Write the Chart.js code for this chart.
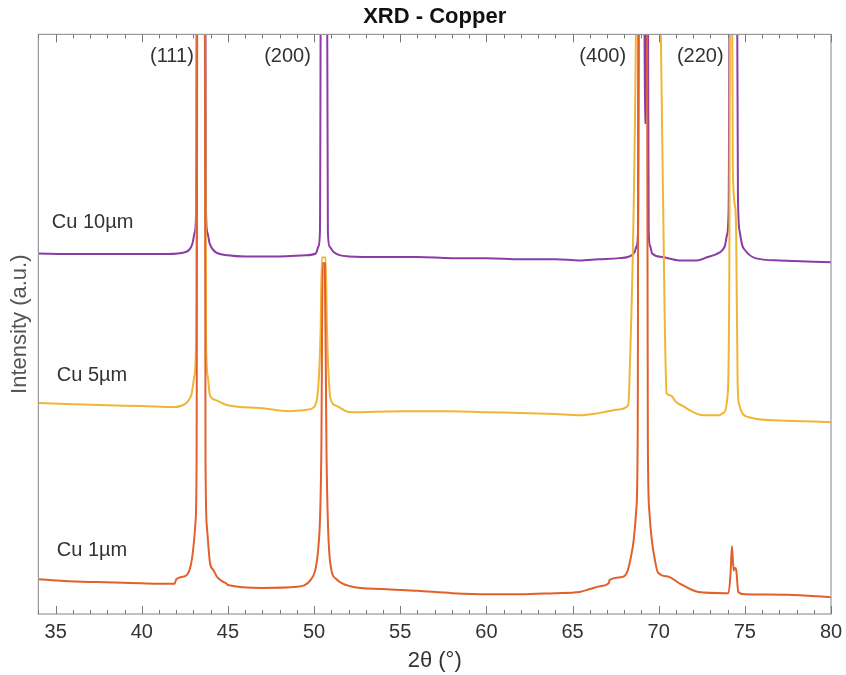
<!DOCTYPE html>
<html>
<head>
<meta charset="utf-8">
<script src="https://cdn.jsdelivr.net/npm/chart.js@4/dist/chart.umd.min.js"></script>
<style>
body { margin: 0; background: #fff; }
#wrap { width: 846px; height: 675px; }
</style>
</head>
<body>
<div id="wrap"><canvas id="grafiek"></canvas></div>
<script>
// ---- DATA ----
const cu1X = [34.0, 35.5, 37.4, 39.9, 41.9, 42.0, 42.6, 42.85, 43.0, 43.12, 43.18, 43.24, 43.64, 43.7, 43.78, 43.96, 44.15, 44.37, 44.7, 44.9, 45.0, 47.0, 49.0, 49.8, 50.1, 50.25, 50.35, 50.42, 50.5, 50.62, 50.72, 50.8, 50.95, 51.3, 52.1, 54, 56, 58, 60, 62, 64, 65.4, 66.0, 66.6, 67.1, 67.15, 67.9, 68.2, 68.4, 68.55, 68.7, 68.78, 68.85, 69.3, 69.37, 69.45, 69.6, 69.8, 69.95, 70.6, 71.2, 72.3, 73.9, 74.05, 74.17, 74.25, 74.35, 74.42, 74.5, 74.62, 75.0, 77.5, 80];
const cu1Y = [6.0, 5.7, 5.5, 5.3, 5.2, 6.0, 6.7, 8.5, 11.6, 16, 26, 140, 140, 26, 15, 8.8, 7.6, 6.4, 5.6, 5.3, 5.0, 4.5, 4.7, 5.9, 8, 11.6, 17, 28, 60.5, 60.5, 28, 16, 8.5, 6.0, 4.8, 4.3, 4.0, 3.6, 3.4, 3.4, 3.6, 3.8, 4.3, 4.8, 5.3, 5.9, 6.4, 7.5, 10, 12.8, 18, 30, 140, 140, 30, 18, 12.8, 9, 7.2, 6.4, 5.3, 3.8, 3.6, 3.6, 7, 11.7, 7.5, 8.0, 7.6, 3.8, 3.4, 3.3, 2.9];

const cu5X = [34.0, 36, 38, 40, 41.9, 42.5, 42.75, 42.9, 43.05, 43.15, 43.24, 43.64, 43.73, 43.83, 43.95, 44.3, 45, 47, 48.5, 49.5, 50.0, 50.2, 50.3, 50.38, 50.45, 50.67, 50.75, 50.83, 50.95, 51.3, 52.1, 55, 58, 60, 62, 64, 65.4, 66.6, 67.7, 68.22, 68.3, 68.68, 68.8, 69.9, 70.12, 70.35, 70.46, 70.6, 70.75, 71.0, 71.4, 71.9, 72.6, 73.5, 73.8, 74.0, 74.1, 74.16, 74.22, 74.3, 74.45, 74.5, 74.58, 74.68, 75.2, 77, 80];
const cu5Y = [36.4, 36.2, 36.0, 35.9, 35.7, 36.2, 37.0, 38.1, 41, 47.2, 140, 140, 47.2, 41, 37.8, 36.9, 36.0, 35.5, 35.0, 35.2, 35.7, 37.8, 42, 49, 61.5, 61.5, 49, 42, 37.2, 35.9, 34.8, 35.0, 35.0, 34.8, 34.7, 34.5, 34.3, 34.7, 35.3, 36.0, 40, 101, 160, 160, 101, 50.7, 38.1, 37.8, 37.6, 36.6, 35.9, 35.0, 34.3, 34.3, 34.8, 37.8, 60, 140, 140, 77, 70, 64.8, 40, 36, 34.0, 33.4, 33.1];

const cu10X = [34.0, 36, 39, 41.5, 42.5, 42.8, 42.95, 43.07, 43.15, 43.22, 43.66, 43.73, 43.81, 43.93, 44.1, 44.3, 45, 46, 48, 49.5, 50.1, 50.25, 50.34, 50.42, 50.72, 50.8, 50.9, 51.15, 52, 54, 56, 58, 60, 62, 64, 65.4, 66.5, 67.7, 68.2, 68.6, 68.72, 68.8, 68.88, 69.15, 69.19, 69.26, 69.3, 69.34, 69.42, 69.5, 69.62, 70.2, 71.2, 72.2, 72.85, 73.35, 73.7, 73.85, 73.97, 74.06, 74.15, 74.5, 74.6, 74.7, 74.85, 75.0, 75.6, 77, 80];
const cu10Y = [62.2, 62.1, 62.1, 62.1, 62.4, 63.0, 64.0, 65.8, 69, 140, 140, 69, 65.8, 64.0, 63.0, 62.4, 61.9, 61.7, 61.7, 61.9, 62.2, 63.4, 66, 140, 140, 66, 63.4, 62.4, 61.7, 61.6, 61.6, 61.4, 61.4, 61.2, 61.2, 61.0, 61.2, 61.4, 61.6, 62.4, 63.5, 66, 140, 140, 84.7, 84.7, 140, 140, 66, 63.5, 62.2, 61.6, 61.0, 61.0, 61.6, 62.1, 62.8, 63.6, 65.5, 70, 140, 140, 72, 66, 63.6, 62.8, 61.4, 61.0, 60.7];

const xTicks = [35, 40, 45, 50, 55, 60, 65, 70, 75, 80];
const peakLabels = ["(111)", "(200)", "(400)", "(220)"];
const peakLabelX = [41.75, 48.46, 66.75, 72.41];
const peakLabelY = 96.2;
const seriesLabels = ["Cu 10µm", "Cu 5µm", "Cu 1µm"];
const seriesLabelX = [34.78, 35.07, 35.07];
const seriesLabelY = [67.6, 41.2, 11.0];

const kleuren = ["#8b3ca7", "#f1b534", "#e2602c"];

function punten(xs, ys) {
    return xs.map((x, i) => ({ x: x, y: ys[i] }));
}

// ---- PLUGIN: kader, ticks naar binnen, tekst ----
const extraPlugin = {
    id: "extra",
    afterDatasetsDraw(chart) {
        const ctx = chart.ctx;
        const a = chart.chartArea;
        const xs = chart.scales.x;
        const ys = chart.scales.y;
        ctx.save();
        ctx.strokeStyle = "#9a9a9a";
        ctx.lineWidth = 1.2;
        ctx.strokeRect(a.left, a.top, a.right - a.left, a.bottom - a.top);
        ctx.strokeStyle = "#777";
        ctx.lineWidth = 1;
        for (let v = 34; v <= 80; v++) {
            const px = Math.round(xs.getPixelForValue(v)) + 0.5;
            const len = v % 5 === 0 ? 8 : 4;
            ctx.beginPath();
            ctx.moveTo(px, a.bottom);
            ctx.lineTo(px, a.bottom - len);
            ctx.moveTo(px, a.top);
            ctx.lineTo(px, a.top + len);
            ctx.stroke();
        }
        ctx.fillStyle = "#333";
        ctx.font = "20px 'Liberation Sans', Arial, sans-serif";
        ctx.textAlign = "center";
        ctx.textBaseline = "middle";
        peakLabels.forEach((t, i) => {
            ctx.fillText(t, xs.getPixelForValue(peakLabelX[i]), ys.getPixelForValue(peakLabelY));
        });
        ctx.textAlign = "left";
        seriesLabels.forEach((t, i) => {
            ctx.fillText(t, xs.getPixelForValue(seriesLabelX[i]), ys.getPixelForValue(seriesLabelY[i]));
        });
        ctx.restore();
    }
};

const ctx = document.getElementById("grafiek").getContext("2d");
const grafiek = new Chart(ctx, {
    type: "line",
    data: {
        datasets: [
            { label: "Cu 1µm", data: punten(cu1X, cu1Y), borderColor: kleuren[2], order: 0 },
            { label: "Cu 5µm", data: punten(cu5X, cu5Y), borderColor: kleuren[1], order: 1 },
            { label: "Cu 10µm", data: punten(cu10X, cu10Y), borderColor: kleuren[0], order: 2 }
        ]
    },
    plugins: [extraPlugin],
    options: {
        responsive: true,
        maintainAspectRatio: false,
        animation: false,
        elements: {
            point: { radius: 0 },
            line: { borderWidth: 2, cubicInterpolationMode: "monotone", fill: false }
        },
        datasets: { line: { clip: 0 } },
        layout: { padding: { left: 0, right: 15, top: 0, bottom: 0 } },
        plugins: {
            legend: { display: false },
            tooltip: { enabled: false },
            title: {
                display: true,
                text: "XRD - Copper",
                fullSize: false,
                color: "#111",
                font: { family: "'Liberation Sans', Arial, sans-serif", size: 22, weight: "bold" },
                padding: { top: 4, bottom: 4 }
            }
        },
        scales: {
            x: {
                type: "linear",
                min: 34,
                max: 80,
                afterBuildTicks: (scale) => {
                    scale.ticks = xTicks.map(v => ({ value: v }));
                },
                afterFit: (scale) => {
                    scale.paddingLeft = 0;
                    scale.paddingRight = 0;
                },
                grid: { display: false, drawTicks: false },
                border: { display: false },
                ticks: {
                    color: "#333",
                    padding: 8,
                    maxRotation: 0,
                    font: { family: "'Liberation Sans', Arial, sans-serif", size: 20, lineHeight: 1 }
                },
                title: {
                    display: true,
                    text: "2θ (°)",
                    color: "#333",
                    padding: { top: 0, bottom: 3 },
                    font: { family: "'Liberation Sans', Arial, sans-serif", size: 22, lineHeight: 1 }
                }
            },
            y: {
                min: 0,
                max: 100,
                grid: { display: false, drawTicks: false },
                border: { display: false },
                ticks: { display: false },
                title: {
                    display: true,
                    text: "Intensity (a.u.)",
                    color: "#555",
                    padding: { top: 7, bottom: 5 },
                    font: { family: "'Liberation Sans', Arial, sans-serif", size: 22 }
                }
            }
        }
    }
});
</script>
</body>
</html>
